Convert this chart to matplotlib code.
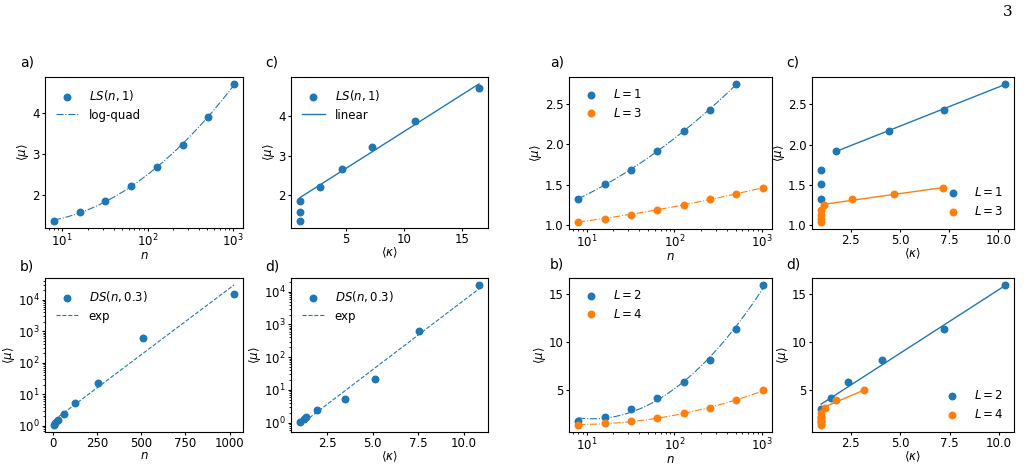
import numpy as np
import matplotlib
matplotlib.use('Agg')
import matplotlib.pyplot as plt

plt.rcParams['font.size'] = 8.5
plt.rcParams['mathtext.fontset'] = 'dejavusans'
plt.rcParams['xtick.major.size'] = 2.5
plt.rcParams['ytick.major.size'] = 2.5
plt.rcParams['xtick.minor.size'] = 1.5
plt.rcParams['ytick.minor.size'] = 1.5
plt.rcParams['xtick.major.pad'] = 1
plt.rcParams['ytick.major.pad'] = 1.5
plt.rcParams['xtick.minor.pad'] = 1
plt.rcParams['ytick.minor.pad'] = 1.5
plt.rcParams['axes.labelpad'] = 0.5

# system sizes
n = [8, 16, 32, 64, 128, 256, 512, 1024]

# left group: LS(n,1) and DS(n,0.3)
ls_mu = [1.35, 1.57, 1.85, 2.21, 2.66, 3.21, 3.88, 4.70]
ls_kappa = [1.0, 1.0, 1.0, 2.71, 4.6, 7.26, 10.93, 16.5]
ds_mu = [1.05, 1.25, 1.53, 2.4, 5.4, 22, 620, 16000]
ds_kappa = [1.0, 1.2, 1.35, 1.95, 3.45, 5.1, 7.55, 10.85]

# right group: L = 1..4
n_L1 = [8, 16, 32, 64, 128, 256, 512]
mu_L1 = [1.32, 1.51, 1.68, 1.92, 2.17, 2.43, 2.75]
kappa_L1 = [1.0, 1.0, 1.0, 1.75, 4.43, 7.23, 10.33]
mu_L3 = [1.04, 1.08, 1.13, 1.19, 1.25, 1.32, 1.39, 1.46]
kappa_L3 = [1.0, 1.0, 1.0, 1.0, 1.14, 2.59, 4.69, 7.18]
mu_L2 = [1.76, 2.18, 3.01, 4.10, 5.77, 8.07, 11.37, 15.97]
kappa_L2 = [1.0, 1.0, 1.0, 1.49, 2.38, 4.08, 7.23, 10.29]
mu_L4 = [1.31, 1.49, 1.70, 2.04, 2.53, 3.09, 3.92, 4.93]
kappa_L4 = [1.0, 1.0, 1.0, 1.0, 1.0, 1.2, 1.76, 3.19]

W, H = 1024, 468
def box(x0, x1, y0, y1):
    return [x0 / W, 1 - y1 / H, (x1 - x0) / W, (y1 - y0) / H]

fig = plt.figure(figsize=(10.24, 4.68), dpi=100)
axA = fig.add_axes(box(45, 243, 77, 228))
axC = fig.add_axes(box(291, 488, 77, 228))
axB = fig.add_axes(box(45, 243, 278, 432))
axD = fig.add_axes(box(291, 488, 278, 432))
axRA = fig.add_axes(box(569, 772, 77, 229))
axRC = fig.add_axes(box(812, 1014, 77, 229))
axRB = fig.add_axes(box(569, 772, 278, 432))
axRD = fig.add_axes(box(812, 1014, 278, 432))

S = 22
mu_lab = r'$\langle \mu \rangle$'
k_lab = r'$\langle \kappa \rangle$'


def logquad(ax, x, y, color):
    x = np.array(x, float)
    c = np.polyfit(np.log10(x), y, 2)
    xs = np.logspace(np.log10(x[0]), np.log10(x[-1]), 200)
    return ax.plot(xs, np.polyval(c, np.log10(xs)), '-.', color=color, lw=0.8)


def linfit(ax, x, y, start, color, label=None):
    x = np.array(x[start:], float)
    c = np.polyfit(x, y[start:], 1)
    xs = np.array([x.min(), x.max()])
    ax.plot(xs, np.polyval(c, xs), '-', color=color, lw=1, label=label)


def labels(ax, xlab):
    ax.set_xlabel(xlab, labelpad=-0.5)
    ax.set_ylabel(mu_lab)


# a) LS vs n
axA.scatter(n, ls_mu, s=S, color='C0', label=r'$LS(n,1)$', zorder=3)
logquad(axA, n, ls_mu, 'C0')[0].set_label('log-quad')
axA.set_xscale('log')
labels(axA, r'$n$')
axA.legend(loc='upper left', frameon=False)

# c) LS vs kappa
axC.scatter(ls_kappa, ls_mu, s=S, color='C0', label=r'$LS(n,1)$', zorder=3)
linfit(axC, ls_kappa, ls_mu, 2, 'C0', 'linear')
labels(axC, k_lab)
axC.legend(loc='upper left', frameon=False)

# b) DS vs n
axB.scatter(n, ds_mu, s=S, color='C0', label=r'$DS(n,0.3)$', zorder=3)
c = np.polyfit(n, np.log10(ds_mu), 1)
xs = np.linspace(n[0], n[-1], 200)
axB.plot(xs, 10 ** np.polyval(c, xs), '--', color='C0', lw=0.8, label='exp')
axB.set_yscale('log')
labels(axB, r'$n$')
axB.legend(loc='upper left', frameon=False)

# d) DS vs kappa
axD.scatter(ds_kappa, ds_mu, s=S, color='C0', label=r'$DS(n,0.3)$', zorder=3)
c = np.polyfit(ds_kappa, np.log10(ds_mu), 1)
xs = np.linspace(ds_kappa[0], ds_kappa[-1], 200)
axD.plot(xs, 10 ** np.polyval(c, xs), '--', color='C0', lw=0.8, label='exp')
axD.set_yscale('log')
labels(axD, k_lab)
axD.legend(loc='upper left', frameon=False)

# right a) L=1, L=3 vs n
axRA.scatter(n_L1, mu_L1, s=S, color='C0', label=r'$L=1$', zorder=3)
axRA.scatter(n, mu_L3, s=S, color='C1', label=r'$L=3$', zorder=3)
logquad(axRA, n_L1, mu_L1, 'C0')
logquad(axRA, n, mu_L3, 'C1')
axRA.set_xscale('log')
labels(axRA, r'$n$')
axRA.legend(loc='upper left', frameon=False)

# right c) L=1, L=3 vs kappa
axRC.scatter(kappa_L1, mu_L1, s=S, color='C0', label=r'$L=1$', zorder=3)
axRC.scatter(kappa_L3, mu_L3, s=S, color='C1', label=r'$L=3$', zorder=3)
linfit(axRC, kappa_L1, mu_L1, 3, 'C0')
linfit(axRC, kappa_L3, mu_L3, 4, 'C1')
labels(axRC, k_lab)
axRC.legend(loc='lower right', frameon=False)

# right b) L=2, L=4 vs n
axRB.scatter(n, mu_L2, s=S, color='C0', label=r'$L=2$', zorder=3)
axRB.scatter(n, mu_L4, s=S, color='C1', label=r'$L=4$', zorder=3)
logquad(axRB, n, mu_L2, 'C0')
logquad(axRB, n, mu_L4, 'C1')
axRB.set_xscale('log')
labels(axRB, r'$n$')
axRB.legend(loc='upper left', frameon=False)

# right d) L=2, L=4 vs kappa
axRD.scatter(kappa_L2, mu_L2, s=S, color='C0', label=r'$L=2$', zorder=3)
axRD.scatter(kappa_L4, mu_L4, s=S, color='C1', label=r'$L=4$', zorder=3)
linfit(axRD, kappa_L2, mu_L2, 2, 'C0')
linfit(axRD, kappa_L4, mu_L4, 5, 'C1')
labels(axRD, k_lab)
axRD.legend(loc='lower right', frameon=False)

# panel letters
for x, y, t in [(20, 63, 'a)'), (265, 63, 'c)'), (20, 267, 'b)'), (265, 267, 'd)'),
                (550, 63, 'a)'), (786, 63, 'c)'), (550, 265, 'b)'), (786, 265, 'd)')]:
    fig.text(x / W, 1 - y / H, t, fontsize=10, va='center', ha='left')

fig.text(1013 / W, 1 - 12 / H, '3', fontsize=11, family='DejaVu Serif', ha='right', va='center')

fig.savefig('out.png', dpi=100)
